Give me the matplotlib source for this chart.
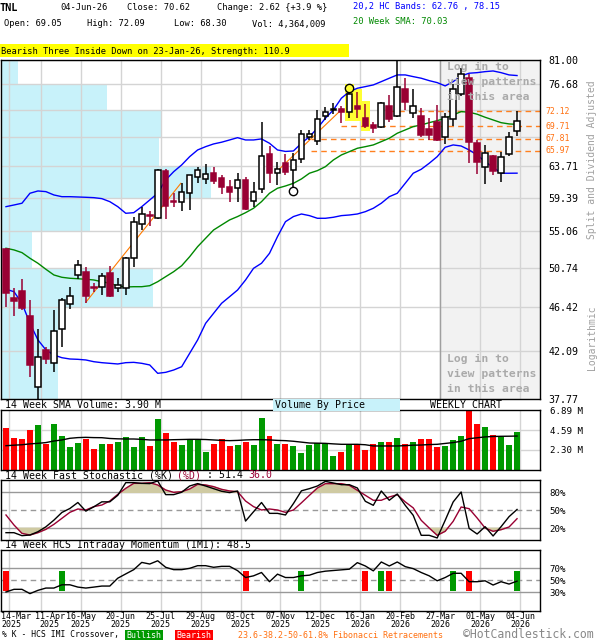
import numpy as np
import matplotlib
matplotlib.use("Agg")
import matplotlib.pyplot as plt
from matplotlib.ticker import NullLocator
from matplotlib.transforms import blended_transform_factory, ScaledTranslation
from matplotlib.patches import Rectangle

plt.rcParams['font.family'] = ['DejaVu Sans Mono']

# weekly candles 14-Mar-2025 .. 04-Jun-2026
opens = [52.93, 47.41, 48.17, 45.54, 38.79, 42.19, 40.94, 44.19, 46.78, 49.93,
         50.26, 48.58, 48.57, 50.18, 48.52, 48.46, 51.84, 55.95, 57.13, 56.71,
         63.07, 58.99, 58.79, 59.99, 62.18, 61.91, 62.83, 62.13, 60.89, 60.67,
         61.81, 58.96, 60.57, 65.53, 62.75, 64.21, 63.17, 64.75, 68.13, 67.48,
         71.41, 72.34, 72.50, 72.01, 73.04, 71.09, 69.94, 69.68, 73.04, 71.37,
         75.83, 71.90, 71.37, 69.27, 70.46, 68.13, 70.84, 74.99, 77.73, 67.12,
         63.68, 65.24, 62.83, 65.53, 69.05]
highs = [53.00, 48.46, 49.45, 47.20, 44.22, 42.50, 46.15, 47.41, 48.57, 51.64,
         50.87, 49.07, 50.12, 50.98, 49.56, 52.02, 56.92, 58.21, 57.65, 63.31,
         63.31, 60.07, 61.44, 62.50, 63.68, 64.03, 63.60, 62.50, 61.81, 62.75,
         62.18, 61.49, 70.46, 66.71, 64.40, 65.53, 65.63, 69.16, 69.16, 72.26,
         72.88, 73.40, 72.99, 76.17, 75.38, 73.32, 70.46, 73.70, 74.82, 80.90,
         77.73, 75.83, 72.71, 71.00, 73.16, 71.90, 76.64, 79.50, 78.35, 67.62,
         66.87, 65.38, 65.87, 68.90, 72.09]
lows = [46.43, 45.57, 46.15, 39.73, 37.80, 40.88, 40.18, 42.50, 46.23, 49.45,
        46.85, 48.09, 47.73, 47.49, 48.09, 47.73, 50.87, 55.24, 55.74, 56.60,
        56.58, 58.13, 57.69, 57.78, 61.44, 61.22, 61.22, 59.90, 58.87, 58.87,
        57.80, 58.13, 59.99, 61.35, 61.12, 62.51, 60.89, 64.17, 67.62, 66.87,
        70.73, 71.69, 70.21, 71.09, 71.00, 69.52, 68.65, 69.42, 70.46, 71.20,
        72.34, 71.09, 68.13, 67.62, 67.48, 66.98, 69.79, 74.70, 64.17, 62.60,
        61.22, 62.50, 61.49, 65.28, 68.30]
closes = [47.92, 47.13, 46.39, 40.79, 41.55, 41.37, 44.02, 47.20, 47.66, 51.03,
          47.66, 48.47, 49.85, 47.66, 48.85, 51.84, 56.20, 57.22, 56.97, 63.21,
          58.30, 58.86, 60.13, 62.46, 63.21, 62.65, 61.72, 60.89, 60.17, 61.77,
          57.91, 60.13, 65.24, 62.75, 63.31, 62.97, 64.60, 68.55, 68.55, 70.86,
          71.97, 72.45, 71.93, 74.99, 72.45, 69.79, 69.52, 73.44, 70.84, 76.17,
          73.65, 73.04, 68.39, 68.39, 67.62, 71.16, 75.83, 78.35, 67.32, 64.31,
          65.72, 63.07, 65.05, 68.04, 70.62]

band_upper = [58.21, 58.43, 58.66, 59.99, 60.30, 60.21, 59.76, 59.53, 59.53, 59.49,
              59.45, 59.40, 59.27, 58.87, 58.21, 57.35, 57.43, 58.21, 59.09, 59.99,
              61.81, 62.97, 63.93, 65.13, 66.12, 66.61, 67.02, 67.28, 67.62, 67.97,
              67.62, 67.62, 67.78, 67.12, 66.12, 65.90, 65.97, 67.12, 68.13, 69.42,
              71.00, 72.34, 74.27, 75.38, 75.95, 76.23, 76.52, 77.09, 77.68, 78.26,
              78.26, 77.96, 77.68, 77.26, 76.92, 76.35, 77.09, 78.08, 78.56, 78.66,
              78.84, 78.96, 78.66, 78.26, 78.15]
band_lower = [48.35, 48.09, 46.85, 44.79, 43.15, 42.19, 41.71, 41.46, 41.34, 41.31,
              41.25, 41.09, 41.00, 40.94, 40.88, 41.00, 41.03, 40.94, 40.79, 40.03,
              40.12, 40.33, 40.63, 41.87, 43.15, 44.79, 45.81, 46.85, 47.55, 48.27,
              49.37, 50.68, 51.26, 52.42, 54.42, 56.28, 56.93, 57.26, 57.05, 56.71,
              56.71, 56.84, 57.05, 57.13, 57.26, 57.56, 58.00, 58.66, 59.53, 59.99,
              61.35, 62.75, 63.31, 64.17, 65.13, 66.52, 66.87, 66.71, 66.12, 65.38,
              64.40, 63.60, 62.75, 62.75, 62.76]
sma20 = [53.02, 52.82, 52.50, 51.84, 51.26, 50.57, 49.93, 49.67, 49.56, 49.51,
         49.45, 49.37, 49.18, 49.01, 48.71, 48.60, 48.63, 48.63, 48.74, 49.18,
         49.74, 50.30, 50.98, 52.02, 53.21, 54.22, 55.24, 55.87, 56.50, 56.93,
         57.43, 58.00, 58.87, 59.99, 60.67, 60.98, 61.35, 61.95, 62.75, 63.12,
         63.68, 64.65, 65.38, 65.87, 66.37, 66.61, 66.87, 67.37, 67.88, 68.65,
         69.16, 69.68, 69.94, 70.30, 70.62, 71.00, 71.53, 72.07, 71.97, 71.65,
         71.16, 70.73, 70.30, 70.10, 70.03]

# volume in millions
volume = [4.85, 3.71, 3.59, 4.63, 5.20, 3.02, 5.31, 3.94, 2.64, 3.13,
          3.59, 2.44, 3.02, 3.02, 3.25, 3.82, 2.67, 3.82, 2.79, 5.89,
          4.28, 3.25, 2.90, 3.59, 3.59, 2.10, 3.02, 3.59, 2.79, 2.90,
          3.25, 2.90, 6.00, 3.94, 3.02, 3.02, 2.79, 1.98, 2.90, 3.13,
          3.13, 1.64, 2.06, 2.90, 2.90, 2.33, 3.02, 3.25, 3.25, 3.71,
          3.02, 3.25, 3.59, 3.59, 2.67, 2.79, 3.48, 3.94, 7.20, 5.31,
          4.97, 4.05, 3.82, 2.90, 4.36]
vol_sma = [2.79, 2.85, 2.90, 3.00, 3.06, 3.15, 3.33, 3.45, 3.64, 3.72,
           3.75, 3.72, 3.71, 3.62, 3.58, 3.56, 3.56, 3.52, 3.45, 3.45,
           3.45, 3.48, 3.50, 3.52, 3.52, 3.50, 3.45, 3.40, 3.37, 3.40,
           3.45, 3.48, 3.48, 3.45, 3.40, 3.37, 3.30, 3.20, 3.10, 3.08,
           3.06, 3.00, 2.95, 2.95, 2.95, 2.90, 2.76, 2.76, 2.76, 2.76,
           2.80, 2.85, 2.87, 2.92, 2.95, 3.05, 3.15, 3.30, 3.60, 3.70,
           3.80, 3.85, 3.87, 3.88, 3.90]

stoch_k = [12.7, 12.7, 7.7, 8.8, 14.3, 22.5, 33.6, 46.4, 53.0, 63.0,
           48.6, 55.8, 64.1, 64.1, 75.0, 96.1, 96.1, 94.9, 94.5, 98.9,
           76.1, 76.1, 80.1, 90.5, 94.5, 90.5, 86.1, 81.7, 79.5, 82.2,
           32.0, 47.6, 63.0, 44.9, 44.9, 42.2, 61.3, 82.5, 86.1, 90.5,
           98.2, 95.5, 92.7, 92.7, 87.2, 65.0, 58.3, 82.2, 66.7, 77.2,
           58.3, 41.6, 8.3, 8.3, 3.9, 33.3, 63.9, 80.5, 19.9, 10.5,
           22.7, 7.2, 22.7, 39.4, 51.4]
stoch_d = [42.2, 25.5, 11.6, 8.8, 12.7, 18.3, 26.6, 36.6, 46.6, 52.2,
           50.5, 56.1, 58.8, 65.5, 76.6, 86.6, 94.9, 94.9, 96.0, 92.2,
           83.8, 79.9, 81.0, 85.5, 93.2, 92.2, 89.4, 84.9, 82.2, 81.0,
           65.5, 56.1, 50.5, 52.2, 50.5, 46.6, 50.5, 62.5, 75.0, 87.2,
           94.4, 94.4, 94.4, 91.6, 83.3, 75.0, 66.7, 66.7, 72.2, 76.0,
           64.0, 54.0, 33.3, 20.5, 8.3, 15.0, 31.6, 55.5, 52.7, 37.2,
           20.5, 15.0, 17.7, 22.2, 36.0]
imi = [30.6, 35.0, 35.0, 27.9, 33.3, 37.1, 37.1, 42.5, 42.5, 38.7,
       37.1, 38.7, 40.4, 40.4, 53.4, 60.5, 67.5, 79.5, 76.8, 82.2,
       71.4, 67.5, 67.5, 69.7, 74.1, 74.1, 71.4, 73.0, 73.0, 65.9,
       54.5, 57.3, 62.8, 47.6, 60.1, 54.5, 54.5, 57.3, 58.4, 62.8,
       65.0, 66.1, 67.2, 68.3, 79.1, 73.6, 65.5, 80.2, 73.6, 80.2,
       72.5, 69.2, 62.8, 57.3, 49.1, 54.5, 61.5, 61.5, 47.6, 47.6,
       49.1, 42.1, 47.6, 43.7, 48.5]
bullish_weeks = [7, 37, 47, 56, 64]
bearish_weeks = [0, 30, 45, 48, 58]

# volume by price (relative), bins between the price ticks, bottom to top
price_ticks = [37.77, 42.09, 46.42, 50.74, 55.06, 59.39, 63.71, 68.03, 72.35, 76.68, 81.00]
vbp = [57, 57, 152, 31, 89, 210, 158, 160, 106, 17]

fib_levels = [72.12, 69.71, 67.81, 65.97]
fib_start = [48, 42, 38.2, 38.2]
trend_lines = [((10.0, 46.96), (21.9, 61.35)), ((33.75, 62.83), (42.1, 72.50))]
pattern_weeks = [43, 44, 45]
date_idx = [0, 4, 9, 14, 19, 24, 29, 34, 39, 44, 49, 54, 59, 64]
date_lbl = ['14-Mar\n2025', '11-Apr\n2025', '16-May\n2025', '20-Jun\n2025', '25-Jul\n2025',
            '29-Aug\n2025', '03-Oct\n2025', '07-Nov\n2025', '12-Dec\n2025', '16-Jan\n2026',
            '20-Feb\n2026', '27-Mar\n2026', '01-May\n2026', '04-Jun\n2026']

RED = '#990033'
VRED = '#ff0000'
VGREEN = '#009900'
GRID = '#d4d4d4'

x = np.arange(len(closes))
o, h, l, c = map(np.array, (opens, highs, lows, closes))
up = c >= o
xlim = (-0.625, 66.875)
grid_x = [i + 0.375 for i in date_idx]

fig = plt.figure(figsize=(6, 6.4), dpi=100)
W, H = 600.0, 640.0


def axes_px(x0, y0, x1, y1):
    return fig.add_axes([x0 / W, 1 - y1 / H, (x1 - x0) / W, (y1 - y0) / H])


def T(px, py, s, **kw):
    kw.setdefault('va', 'center')
    kw.setdefault('fontsize', 6.3)
    return fig.text(px / W, 1 - py / H, s, **kw)


ax = axes_px(1, 59.6, 540, 399.2)
axv = axes_px(1, 410, 540, 470)
axs = axes_px(1, 480.3, 540, 540.3)
axi = axes_px(1, 550, 540, 610.5)

for a in (ax, axv, axs, axi):
    a.set_xlim(*xlim)
    a.set_xticks([])
    for sp in a.spines.values():
        sp.set_color('black')
        sp.set_linewidth(1)
    for gx in grid_x:
        a.axvline(gx, color=GRID, lw=1, zorder=0.5)
    a.yaxis.tick_right()
    a.tick_params(axis='y', length=0, pad=7, labelsize=6.6)

# ---- price panel
ax.set_yscale('log')
ax.set_ylim(price_ticks[0], price_ticks[-1])
ax.yaxis.set_minor_locator(NullLocator())
ax.set_yticks(price_ticks)
ax.set_yticklabels(['%.2f' % v if v not in (68.03, 72.35) else '' for v in price_ticks])
ax.tick_params(axis='y', labelsize=7.2, pad=6)
for v in price_ticks:
    ax.axhline(v, color=GRID, lw=1, zorder=0.5)

tr = blended_transform_factory(ax.transAxes, ax.transData)
vmax = max(vbp)
for lo, hi, w in zip(price_ticks[:-1], price_ticks[1:], vbp):
    ax.add_patch(Rectangle((0, lo), w / vmax * 210 / 540, hi - lo, transform=tr,
                           facecolor='#c8f2fa', edgecolor='none', zorder=0.3))

login_x = (440 - 5) / 8.0
ax.axvspan(login_x, xlim[1], color='#f2f2f2', zorder=0.2)
ax.axvline(login_x, color='#a0a0a0', lw=1, zorder=0.6)

for lev, st in zip(fib_levels, fib_start):
    ax.plot([st, xlim[1]], [lev, lev], color='#ff8020', lw=1, ls=(0, (4, 3)), zorder=1)
    ax.text(1.01, lev, '%.2f' % lev, transform=tr, color='#ff7010', fontsize=5.9,
            va='center', ha='left')

for (x0, y0), (x1, y1) in trend_lines:
    ax.plot([x0, x1], [y0, y1], color='#ff7a00', lw=0.8, zorder=1.2)

for i in pattern_weeks:
    ax.add_patch(Rectangle((i - 0.6, l[i] * 0.993), 1.2, h[i] * 1.007 - l[i] * 0.993,
                           facecolor='#ffff33', edgecolor='none', zorder=0.9))

ax.plot(x, band_upper, color='#0000ff', lw=1, zorder=1.5)
ax.plot(x, band_lower, color='#0000ff', lw=1, zorder=1.5)
ax.plot(x, sma20, color='#008800', lw=1, zorder=1.5)

ax.vlines(x[up], l[up], h[up], color='black', lw=1.1, zorder=2)
ax.vlines(x[~up], l[~up], h[~up], color=RED, lw=1.1, zorder=2)
body_lo = np.minimum(o, c)
body_h = np.maximum(np.abs(c - o), 0.02)
ax.bar(x[up], body_h[up], bottom=body_lo[up], width=0.7, facecolor='white',
       edgecolor='black', lw=1.1, zorder=3)
ax.bar(x[~up], body_h[~up], bottom=body_lo[~up], width=0.7, facecolor=RED,
       edgecolor=RED, lw=1.1, zorder=3)

ax.plot([36], [60.30], 'o', ms=6, mfc='white', mec='black', mew=1, zorder=4)
ax.plot([43], [76.05], 'o', ms=6, mfc='#ffff33', mec='black', mew=1, zorder=4)

# ---- volume panel
axv.set_ylim(0, 6.89)
axv.set_yticks([2.30, 4.59, 6.89])
axv.set_yticklabels(['2.30 M', '4.59 M', '6.89 M'])
for v in (2.30, 4.59):
    axv.axhline(v, color=GRID, lw=1, zorder=0.5)
vcol = [VGREEN if u else VRED for u in up]
axv.bar(x, volume, width=0.75, color=vcol, zorder=2)
axv.plot(x, vol_sma, color='black', lw=1, zorder=3)

# ---- stochastic panel
axs.set_ylim(0, 100)
axs.set_yticks([20, 50, 80])
axs.set_yticklabels(['20%', '50%', '80%'])
axs.axhline(80, color='#999999', lw=1, zorder=0.6)
axs.axhline(20, color='#999999', lw=1, zorder=0.6)
axs.axhline(50, color='#999999', lw=1, ls=(0, (4, 3)), zorder=0.6)
d = np.array(stoch_d)
axs.fill_between(x, 80, d, where=d > 80, interpolate=True, color='#cfcaa2', zorder=1)
axs.fill_between(x, d, 20, where=d < 20, interpolate=True, color='#cfcaa2', zorder=1)
axs.plot(x, stoch_d, color=RED, lw=1, zorder=2)
axs.plot(x, stoch_k, color='black', lw=1, zorder=3)

# ---- IMI panel
axi.set_ylim(0, 100)
axi.set_yticks([30, 50, 70])
axi.set_yticklabels(['30%', '50%', '70%'])
axi.axhline(70, color='#999999', lw=1, zorder=0.6)
axi.axhline(30, color='#999999', lw=1, zorder=0.6)
axi.axhline(50, color='#999999', lw=1, ls=(0, (4, 3)), zorder=0.6)
axi.bar(bullish_weeks, 34, bottom=32, width=0.75, color=VGREEN, zorder=2)
axi.bar(bearish_weeks, 34, bottom=32, width=0.75, color=VRED, zorder=2)
axi.plot(x, imi, color='black', lw=1, zorder=3)

axi.set_xticks(grid_x)
axi.set_xticklabels(date_lbl, fontsize=6, linespacing=0.85)
axi.tick_params(axis='x', length=0, pad=0.8)
tlabels = axi.get_xticklabels()
tlabels[0].set_horizontalalignment('left')
tlabels[0].set_transform(tlabels[0].get_transform() + ScaledTranslation(-0.08, 0, fig.dpi_scale_trans))
tlabels[1].set_transform(tlabels[1].get_transform() + ScaledTranslation(0.09, 0, fig.dpi_scale_trans))

# ---- header and captions
T(0, 8, 'TNL', fontweight='bold', fontsize=7.4)
T(60, 8, '04-Jun-26')
T(127, 8, 'Close: 70.62')
T(217, 8, 'Change: 2.62 {+3.9 %}')
T(4, 24, 'Open: 69.05')
T(87, 24, 'High: 72.09')
T(174, 24, 'Low: 68.30')
T(252, 24, 'Vol: 4,364,009')
T(353, 7, '20,2 HC Bands: 62.76 , 78.15', color='#0000ff')
T(353, 22, '20 Week SMA: 70.03', color='#008800')
fig.patches.append(Rectangle((0, 1 - 57 / H), 349 / W, 13 / H, transform=fig.transFigure,
                             facecolor='#ffff00', edgecolor='none'))
T(1, 51, 'Bearish Three Inside Down on 23-Jan-26, Strength: 110.9')

login_txt = ['Log in to', 'view patterns', 'in this area']
for k, s in enumerate(login_txt):
    T(447, 67 + 15 * k, s, color='#aaaaaa', fontweight='bold', fontsize=8.2)
    T(447, 359 + 15 * k, s, color='#aaaaaa', fontweight='bold', fontsize=8.2)

T(592, 160, 'Split and Dividend Adjusted', rotation=90, ha='center', color='#a0a0a0', fontsize=7)
T(592, 338, 'Logarithmic', rotation=90, ha='center', color='#a0a0a0', fontsize=7)

T(5, 405, '14 Week SMA Volume: 3.90 M', fontsize=7.1)
fig.patches.append(Rectangle((273 / W, 1 - 411 / H), 127 / W, 12 / H, transform=fig.transFigure,
                             facecolor='#c8f2fa', edgecolor='none'))
T(275, 405, 'Volume By Price', fontsize=7.1)
T(430, 405, 'WEEKLY CHART', fontsize=7.1)

cw = 0.602 * 7.1 * 100 / 72  # monospace char width in px
T(5, 475, '14 Week Fast Stochastic (%K)', fontsize=7.1)
T(5 + 29 * cw, 475, '(%D)', fontsize=7.1, color=RED)
T(5 + 34 * cw, 475, ': 51.4', fontsize=7.1)
T(5 + 41 * cw, 475, '36.0', fontsize=7.1, color=RED)
T(5, 545, '14 Week HCS Intraday Momentum (IMI): 48.5', fontsize=7.1)

T(2, 635, '% K - HCS IMI Crossover,', fontsize=5.8)
fig.patches.append(Rectangle((125 / W, 1 - 641 / H), 38 / W, 11 / H, transform=fig.transFigure,
                             facecolor=VGREEN, edgecolor='none'))
fig.patches.append(Rectangle((175 / W, 1 - 641 / H), 38 / W, 11 / H, transform=fig.transFigure,
                             facecolor=VRED, edgecolor='none'))
T(144, 635.5, 'Bullish', ha='center', color='white', fontsize=6)
T(194, 635.5, 'Bearish', ha='center', color='white', fontsize=6)
T(238, 635, '23.6-38.2-50-61.8% Fibonacci Retracements', color='#ff7010', fontsize=6)
T(463, 634.5, '\u00a9HotCandlestick.com', color='#888888', fontsize=8.3)

fig.savefig('out.png', dpi=100)
